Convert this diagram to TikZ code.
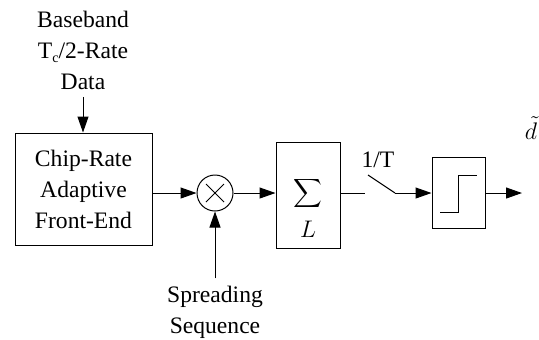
\documentclass[tikz,border=0pt]{standalone}
\usepackage{fontspec}
\setmainfont{Liberation Serif}
\usetikzlibrary{arrows.meta,calc}
\begin{document}
\begin{tikzpicture}[x=0.5pt,y=-0.5pt,line width=0.5pt,
  font=\fontsize{11.8}{15.5}\selectfont,
  blk/.style={draw,align=center,inner sep=0pt},
  txt/.style={align=center,inner sep=3.5pt},
  sig/.style={-{Triangle[length=8pt,width=5.5pt]}}]
\useasboundingbox (0,0) rectangle (539,339);
\node[txt] (src) at (83,50) {Baseband\\T\raisebox{-0.4ex}{\scriptsize c}/2-Rate\\Data};
\node[blk,minimum width=68.5pt,minimum height=56pt] (fe) at (83.5,189) {Chip-Rate\\Adaptive\\Front-End};
\node[draw,circle,minimum size=18pt,inner sep=0pt] (mix) at (215,193) {};
\draw ($(mix)+(-9,-9)$) -- ($(mix)+(9,9)$) ($(mix)+(-9,9)$) -- ($(mix)+(9,-9)$);
\node[blk,minimum width=32pt,minimum height=53pt] (acc) at (308,195) {};
\node (sum) at (308,193) {\fontsize{15}{15}\selectfont$\displaystyle\sum$};
\node (len) at (308,229) {$L$};
\node[blk,minimum width=26.5pt,minimum height=35.5pt] (dec) at (458.5,192.5) {};
\draw ([shift={(-18.5,19.5)}]dec.center) -- ++(18.5,0) |- ++(18.5,-37);
\node[txt] (spr) at (215,312) {Spreading\\Sequence};
\node (rate) at (378,160) {1/T};
\node[inner sep=0pt] (est) at (531,128) {$\tilde d$};
\coordinate (swa) at (365,193);
\coordinate (swb) at (368,175);
\coordinate (swc) at (395,193);
\coordinate (out) at (522,193);
% connectors
\draw[sig] (src.south) -- (src.south |- fe.north);
\draw[sig] (fe.east |- mix) -- (mix);
\draw[sig] (spr) -- (mix);
\draw[sig] (mix) -- (mix -| acc.west);
\draw (acc.east |- mix) -- (swa);
\draw (swb) -- (swc);
\draw[sig] (swc) -- (swc -| dec.west);
\draw[sig] (dec.east |- mix) -- (out);
\end{tikzpicture}
\end{document}
